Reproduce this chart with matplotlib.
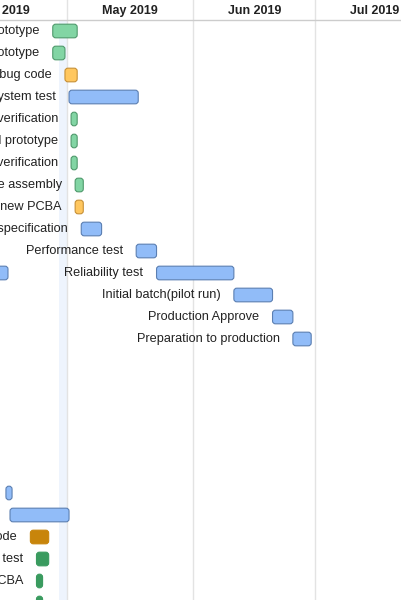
import matplotlib
matplotlib.use("Agg")
import matplotlib.pyplot as plt
import matplotlib.dates as mdates
from matplotlib.patches import FancyBboxPatch
from datetime import datetime

plt.rcParams['font.family'] = ['Liberation Sans', 'DejaVu Sans']

# task data (row on the chart, name, start, end, kind)
rows = [0, 1, 2, 3, 4, 5, 6, 7, 8, 9, 10, 11, 11, 12, 13, 14, 21, 22, 23, 24, 25, 26]
names = ["Develop prototype", "Test prototype", "Debug code", "System test",
         "Design verification", "Build prototype", "Prototype verification",
         "Enclosure assembly", "Order new PCBA", "Review specification",
         "Performance test", "Stress test", "Reliability test",
         "Initial batch(pilot run)", "Production Approve", "Preparation to production",
         "Field test", "Engineering validation", "Debug code", "Unit test",
         "New PCBA", "Production verification"]
starts = ["2019-04-27 12:00", "2019-04-27 12:00", "2019-04-30 12:00", "2019-05-01 12:00",
          "2019-05-02 00:00", "2019-05-02 00:00", "2019-05-02 00:00",
          "2019-05-03 00:00", "2019-05-03 00:00", "2019-05-04 12:00",
          "2019-05-18 00:00", "2019-04-06 00:00", "2019-05-23 00:00",
          "2019-06-11 00:00", "2019-06-20 12:00", "2019-06-25 12:00",
          "2019-04-16 00:00", "2019-04-17 00:00", "2019-04-22 00:00", "2019-04-23 12:00",
          "2019-04-23 12:00", "2019-04-23 12:00"]
ends = ["2019-05-03 12:00", "2019-04-30 12:00", "2019-05-03 12:00", "2019-05-18 12:00",
        "2019-05-03 12:00", "2019-05-03 12:00", "2019-05-03 12:00",
        "2019-05-05 00:00", "2019-05-05 00:00", "2019-05-09 12:00",
        "2019-05-23 00:00", "2019-04-16 12:00", "2019-06-11 00:00",
        "2019-06-20 12:00", "2019-06-25 12:00", "2019-06-30 00:00",
        "2019-04-17 12:00", "2019-05-01 12:00", "2019-04-26 12:00", "2019-04-26 12:00",
        "2019-04-25 00:00", "2019-04-25 00:00"]
kinds = ["green", "green", "orange", "blue", "green", "green", "green", "green",
         "orange", "blue", "blue", "blue", "blue", "blue", "blue", "blue",
         "blue", "blue", "dorange", "dgreen", "dgreen", "dgreen"]

months = ["2019-04-01", "2019-05-01", "2019-06-01", "2019-07-01", "2019-08-01"]
month_labels = ["Apr 2019", "May 2019", "Jun 2019", "Jul 2019"]
band = ["2019-04-29", "2019-05-01"]

fills = {"green": "#82d5a4", "orange": "#ffc75f", "blue": "#91bcf8",
         "dorange": "#c8850b", "dgreen": "#3a9b5f"}
edges = {"green": "#4f9a6c", "orange": "#c79036", "blue": "#5b7fb2",
         "dorange": "#c8850b", "dgreen": "#3a9b5f"}

def dn(s):
    return mdates.date2num(datetime.fromisoformat(s))

px_day = 4.07
row_px = 22.0
may1 = dn("2019-05-01")

fig = plt.figure(figsize=(4.02, 6.0), dpi=100)
ax = fig.add_axes([0, 0, 1, 1])
ax.set_xlim(may1 - 67 / px_day, may1 + 335 / px_day)
ax.set_ylim((600 - 31) / row_px, -31 / row_px)
ax.axis("off")

# light band before May and month grid
ax.axvspan(dn(band[0]), dn(band[1]), ymin=0, ymax=1 - 20 / 600, color="#eef4fd", lw=0, zorder=0)
for m in months:
    ax.axvline(dn(m), color="#e3e3e3", lw=1.0, zorder=1)
ax.axhline(-0.5, color="#cccccc", lw=1.0, zorder=1)

xmax = ax.get_xlim()[1]
for i, lab in enumerate(month_labels):
    mid = (dn(months[i]) + dn(months[i + 1])) / 2
    mid = min(mid, xmax - 27 / px_day)
    if i == 0:
        mid -= 3 / px_day
    ax.text(mid, -20 / row_px, lab, ha="center", va="center", fontsize=9,
            fontweight="bold", color="#222222")

bar_h = 0.62
for r, name, s, e, k in zip(rows, names, starts, ends, kinds):
    x0, x1 = dn(s), dn(e)
    box = FancyBboxPatch((x0, r - bar_h / 2), x1 - x0, bar_h,
                         boxstyle="round,pad=0,rounding_size=0.72",
                         mutation_aspect=px_day / row_px,
                         fc=fills[k], ec=edges[k], lw=0.8, zorder=3)
    ax.add_patch(box)
    ax.annotate(name, (x0, r), xytext=(-9.5, 0), textcoords="offset points",
                ha="right", va="center", fontsize=9.2, color="#222222", zorder=4)

fig.savefig("out.png", dpi=100)
